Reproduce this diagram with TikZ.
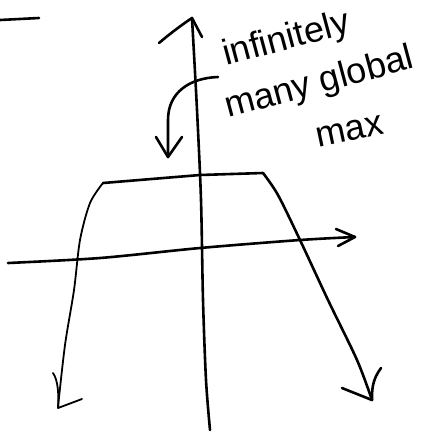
\documentclass[tikz,border=0pt]{standalone}
\usepackage{fontspec}
\setmainfont{Liberation Sans}
\begin{document}
\begin{tikzpicture}[x=1pt,y=-1pt,
  ink/.style={line width=2.6pt, line cap=round, line join=round},
  fine/.style={line width=1.8pt, line cap=round, line join=round},
  hand/.style={font=\fontsize{36}{36}\selectfont, inner sep=0pt, anchor=base west}]
\useasboundingbox (0,0) rectangle (446,432);
% stray dash
\draw[ink] (0,20) -- (39,18);
% y-axis
\draw[ink] plot[smooth] coordinates {(192,18) (197,110) (201,200) (203,300) (206,380) (210,430)};
\draw[ink] (159,43) .. controls (172,32) and (183,24) .. (192,18) -- (202,37);
% x-axis
\draw[ink] plot[smooth] coordinates {(8,263) (100,258) (200,248) (300,240) (355,237)};
\draw[ink] (336,229) -- (355,237) -- (338,246);
% function
\draw[fine] plot[smooth] coordinates {(58,407) (65,345) (74,290) (80,240) (90,203) (103,183)};
\draw[ink] (103,183) -- (200,175) -- (263,173);
\draw[ink] plot[smooth] coordinates {(263,173) (278,195) (300,240) (328,300) (357,360) (372,400)};
% arrowheads of the function
\draw[fine] (53,373) .. controls (58,380) and (59,395) .. (58,408) -- (82,399);
\draw[ink] (342,388) -- (372,400);
\draw[ink] (381,368) .. controls (372,380) and (372,390) .. (372,400);
% curved arrow
\draw[ink] (218,77) .. controls (190,78) and (168,92) .. (168,120) -- (168,157);
\draw[ink] (156,137) -- (168,157) -- (182,137);
% text
\node[hand, rotate=15] (t1) at (226,66) {infinitely};
\node[hand, rotate=15] (t2) at (228,118) {many global};
\node[hand, rotate=12] (t3) at (318,148) {max};
\end{tikzpicture}
\end{document}
